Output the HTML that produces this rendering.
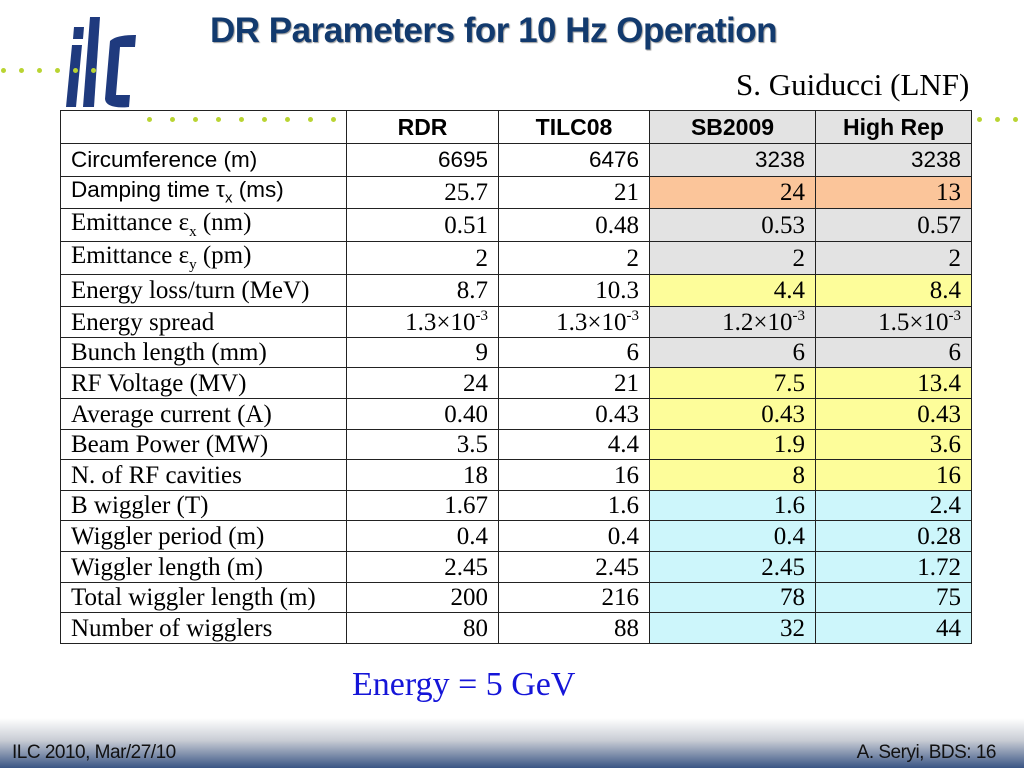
<!DOCTYPE html>
<html><head><meta charset="utf-8"><style>
body{margin:0;width:1024px;height:768px;position:relative;background:#fff;overflow:hidden;font-family:"Liberation Serif",serif}
.abs{position:absolute}
#title{left:210px;top:11px;font:bold 35px "Liberation Sans",sans-serif;color:#123a6e;letter-spacing:-0.5px;text-shadow:1px 1px 1px #999;white-space:nowrap}
#author{left:736px;top:67px;font-size:31px;color:#000}
.dot{position:absolute;width:5px;height:5px;border-radius:50%;background:#b9d432}
table{position:absolute;left:60px;top:110px;border-collapse:collapse;width:912px}
td{border:1.5px solid #222;padding:0 10px;font-size:25px;line-height:1;white-space:nowrap}
td.v{text-align:right}
tr.h td{font:bold 23px "Liberation Sans",sans-serif;text-align:center}
.s{font-family:"Liberation Sans",sans-serif;font-size:22.5px}
.g{background:#e3e3e3}.o{background:#fbc59a}.y{background:#fdfd9a}.c{background:#cdf6fb}
sup{font-size:15px;vertical-align:10px;line-height:0}
#energy{left:352px;top:666px;font-size:34px;color:#1515d8}
#footer{left:0;top:718px;width:1024px;height:50px;background:linear-gradient(#fff,#c8ccd4 45%,#3a5584)}
.ft{font:19px "Liberation Sans",sans-serif;color:#111;top:742px;letter-spacing:-0.5px}
</style></head><body>
<svg class="abs" style="left:62px;top:15px" width="80" height="95" viewBox="0 0 80 95">
<g fill="#1f3a7e">
<path d="M10 30 L20 30 L14 92 L4 92 Z"/><path d="M12 12 L22 12 L21 24 L11 24 Z"/>
<path d="M28 2 L38 2 L32 92 L21 92 Z"/>
<path d="M48 26 Q54 20 72 20 L74 20 L73 32 L58 32 L54 80 L68 80 L67 92 Q44 94 43 84 Z"/>
</g></svg>
<div id="dots"></div>
<div id="title" class="abs">DR Parameters for 10 Hz Operation</div>
<div id="author" class="abs">S. Guiducci (LNF)</div>
<table>
<tr class="h" style="height:33px"><td style="width:265px"></td><td style="width:131px">RDR</td><td style="width:130px">TILC08</td><td class="g" style="width:145px">SB2009</td><td class="g">High Rep</td></tr>
<tr style="height:33px"><td class="s">Circumference (m)</td><td class="v s">6695</td><td class="v s">6476</td><td class="v s g">3238</td><td class="v s g">3238</td></tr>
<tr style="height:32px"><td class="s">Damping time τ<sub style="font-size:15px">x</sub> (ms)</td><td class="v">25.7</td><td class="v">21</td><td class="v o">24</td><td class="v o">13</td></tr>
<tr style="height:33px"><td>Emittance ε<sub style="font-size:15px">x</sub> (nm)</td><td class="v">0.51</td><td class="v">0.48</td><td class="v g">0.53</td><td class="v g">0.57</td></tr>
<tr style="height:33px"><td>Emittance ε<sub style="font-size:15px">y</sub> (pm)</td><td class="v">2</td><td class="v">2</td><td class="v g">2</td><td class="v g">2</td></tr>
<tr style="height:32px"><td>Energy loss/turn (MeV)</td><td class="v">8.7</td><td class="v">10.3</td><td class="v y">4.4</td><td class="v y">8.4</td></tr>
<tr style="height:31px"><td>Energy spread</td><td class="v">1.3×10<sup>-3</sup></td><td class="v">1.3×10<sup>-3</sup></td><td class="v g">1.2×10<sup>-3</sup></td><td class="v g">1.5×10<sup>-3</sup></td></tr>
<tr style="height:30px"><td>Bunch length (mm)</td><td class="v">9</td><td class="v">6</td><td class="v g">6</td><td class="v g">6</td></tr>
<tr style="height:31px"><td>RF Voltage (MV)</td><td class="v">24</td><td class="v">21</td><td class="v y">7.5</td><td class="v y">13.4</td></tr>
<tr style="height:31px"><td>Average current (A)</td><td class="v">0.40</td><td class="v">0.43</td><td class="v y">0.43</td><td class="v y">0.43</td></tr>
<tr style="height:30px"><td>Beam Power (MW)</td><td class="v">3.5</td><td class="v">4.4</td><td class="v y">1.9</td><td class="v y">3.6</td></tr>
<tr style="height:31px"><td>N. of RF cavities</td><td class="v">18</td><td class="v">16</td><td class="v y">8</td><td class="v y">16</td></tr>
<tr style="height:30px"><td>B wiggler (T)</td><td class="v">1.67</td><td class="v">1.6</td><td class="v c">1.6</td><td class="v c">2.4</td></tr>
<tr style="height:31px"><td>Wiggler period (m)</td><td class="v">0.4</td><td class="v">0.4</td><td class="v c">0.4</td><td class="v c">0.28</td></tr>
<tr style="height:31px"><td>Wiggler length (m)</td><td class="v">2.45</td><td class="v">2.45</td><td class="v c">2.45</td><td class="v c">1.72</td></tr>
<tr style="height:30px"><td>Total wiggler length (m)</td><td class="v">200</td><td class="v">216</td><td class="v c">78</td><td class="v c">75</td></tr>
<tr style="height:31px"><td>Number of wigglers</td><td class="v">80</td><td class="v">88</td><td class="v c">32</td><td class="v c">44</td></tr>
</table>
<div id="energy" class="abs">Energy = 5 GeV</div>
<div id="footer" class="abs"></div>
<div class="abs ft" style="left:12px">ILC 2010, Mar/27/10</div>
<div class="abs ft" style="right:28px">A. Seryi, BDS: 16</div>
<script>
var d=document.getElementById('dots');
for(var i=0;i<6;i++){var e=document.createElement('div');e.className='dot';e.style.left=(1+i*18)+'px';e.style.top='68px';d.appendChild(e);}
for(var j=0;j<9;j++){var f=document.createElement('div');f.className='dot';f.style.left=(147+j*23)+'px';f.style.top='117px';d.appendChild(f);}
for(var k=0;k<3;k++){var g=document.createElement('div');g.className='dot';g.style.left=(977+k*18)+'px';g.style.top='117px';d.appendChild(g);}
</script>
</body></html>
